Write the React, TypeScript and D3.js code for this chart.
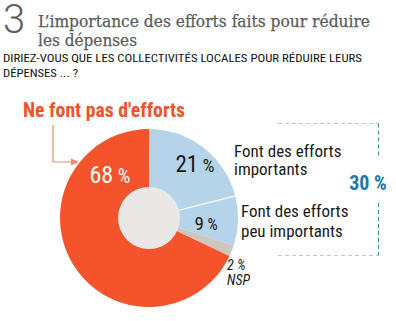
import React from "react";
import * as d3 from "d3";

const categories = ["Font des efforts importants", "Font des efforts peu importants", "NSP", "Ne font pas d'efforts"];
const values = [21, 9, 2, 68];
const colors = ["#b5d3e9", "#b5d3e9", "#cfc7bd", "#f5532b"];
const totalTrying = 30;

const W = 396, H = 321;
const cx = 149, cy = 218, R = 89, r0 = 31;
const narrow = "'Liberation Sans Narrow', 'Arial Narrow', 'Roboto Condensed', sans-serif";

export default function App() {
  const pie = d3.pie<number>().sort(null).value((d) => d);
  const arcs = pie(values);
  const arc = d3.arc<d3.PieArcDatum<number>>().innerRadius(0).outerRadius(R);
  const sepAngle = arcs[0].endAngle;
  const sep = [Math.sin(sepAngle), -Math.cos(sepAngle)];

  return (
    <svg width={W} height={H} style={{ position: "absolute", left: 0, top: 0, background: "#fff" }}>
      {/* header */}
      <text x={3} y={33} fontFamily="Roboto" fontWeight={300} fontSize={40} fill="#5f5f5f">3</text>
      <text x={38} y={27} fontFamily="'DejaVu Serif', serif" fontSize={17} fill="#5a5a5a" stroke="#5a5a5a" strokeWidth={0.25} textLength={332} lengthAdjust="spacingAndGlyphs">L’importance des efforts faits pour réduire</text>
      <text x={38} y={46} fontFamily="'DejaVu Serif', serif" fontSize={17} fill="#5a5a5a" stroke="#5a5a5a" strokeWidth={0.25} textLength={99} lengthAdjust="spacingAndGlyphs">les dépenses</text>
      <text x={3} y={61.5} fontFamily={narrow} fontSize={11.5} fill="#111" textLength={359} lengthAdjust="spacingAndGlyphs">DIRIEZ-VOUS QUE LES COLLECTIVITÉS LOCALES POUR RÉDUIRE LEURS</text>
      <text x={3} y={76.5} fontFamily={narrow} fontSize={11.5} fill="#111" textLength={75} lengthAdjust="spacingAndGlyphs">DÉPENSES ... ?</text>

      {/* pie */}
      <g transform={`translate(${cx},${cy})`}>
        {arcs.map((a, i) => (
          <path key={categories[i]} d={arc(a) || ""} fill={colors[i]} />
        ))}
        <line x1={sep[0] * r0} y1={sep[1] * r0} x2={sep[0] * R} y2={sep[1] * R} stroke="#fff" strokeWidth={1.2} />
        <circle r={r0} fill="#e9e8e6" />
      </g>

      {/* slice value labels */}
      <text x={110} y={183} textAnchor="middle" fontFamily={narrow} fontSize={24} fill="#fff">{values[3]}<tspan fontSize={20}> %</tspan></text>
      <text x={195} y={172} textAnchor="middle" fontFamily={narrow} fontSize={23} fill="#1a1a1a">{values[0]}<tspan fontSize={19}> %</tspan></text>
      <text x={206} y={230} textAnchor="middle" fontFamily={narrow} fontSize={19} fill="#1a1a1a">{values[1]}<tspan fontSize={16}> %</tspan></text>

      {/* Ne font pas d'efforts */}
      <text x={23} y={117} fontFamily={narrow} fontWeight="bold" fontSize={20} fill="#f0522a" textLength={162} lengthAdjust="spacingAndGlyphs">{categories[3]}</text>
      <path d="M53,125 V162 H72" fill="none" stroke="#f08a6d" strokeWidth={1.2} />
      <path d="M79,162 L71,158.5 L71,165.5 Z" fill="#f08a6d" />

      {/* right labels */}
      <text fontFamily={narrow} fontSize={17} fill="#1a1a1a">
        <tspan x={234} y={157}>Font des efforts</tspan>
        <tspan x={234} y={175}>importants</tspan>
      </text>
      <text fontFamily={narrow} fontSize={17} fill="#1a1a1a">
        <tspan x={241} y={217}>Font des efforts</tspan>
        <tspan x={241} y={237}>peu importants</tspan>
      </text>
      <text fontFamily={narrow} fontStyle="italic" fontSize={14} fill="#1a1a1a">
        <tspan x={227} y={270}>{values[2]} %</tspan>
        <tspan x={227} y={285}>{categories[2]}</tspan>
      </text>

      {/* bracket */}
      <path d="M278,123.5 H378.5" stroke="#a9cfe0" strokeWidth={1} strokeDasharray="4,3" fill="none" />
      <path d="M278,255.5 H378.5" stroke="#a9cfe0" strokeWidth={1} strokeDasharray="4,3" fill="none" />
      <path d="M378.5,123.5 V158" stroke="#3a86a6" strokeWidth={1} strokeDasharray="4,3" fill="none" />
      <path d="M378.5,203 V255.5" stroke="#3a86a6" strokeWidth={1} strokeDasharray="4,3" fill="none" />
      <text x={368} y={190} textAnchor="middle" fontFamily={narrow} fontWeight="bold" fontSize={20} fill="#1a7aa6">{totalTrying} %</text>
    </svg>
  );
}
